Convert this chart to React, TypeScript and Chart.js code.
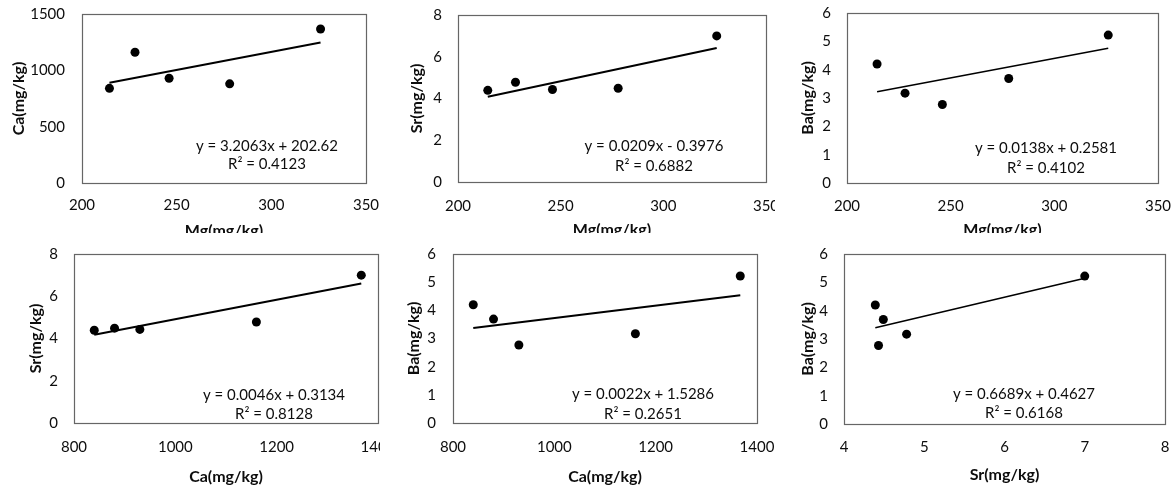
import React, { useEffect, useRef } from "react";
import { Chart, registerables } from "chart.js";

Chart.register(...registerables);

// ---- data (5 samples) ----
const MG = [214.5, 228, 246, 278, 326];
const CA = [840, 1160, 930, 880, 1367];
const SR = [4.39, 4.78, 4.43, 4.49, 7.0];
const BA = [4.2, 3.17, 2.77, 3.69, 5.22];

// ---- tick labels ----
const TICKS_MG = [200, 250, 300, 350];
const TICKS_CA_X = [800, 1000, 1200, 1400];
const TICKS_SR_X = [4, 5, 6, 7, 8];
const TICKS_CA_Y = [0, 500, 1000, 1500];
const TICKS_SR_Y = [0, 2, 4, 6, 8];
const TICKS_BA_Y = [0, 1, 2, 3, 4, 5, 6];

// ---- trendline coefficients and labels ----
const SLOPES = [3.2063, 0.0209, 0.0138, 0.0046, 0.0022, 0.6689];
const INTERCEPTS = [202.62, -0.3976, 0.2581, 0.3134, 1.5286, 0.4627];
const EQUATIONS = [
  "y = 3.2063x + 202.62",
  "y = 0.0209x - 0.3976",
  "y = 0.0138x + 0.2581",
  "y = 0.0046x + 0.3134",
  "y = 0.0022x + 1.5286",
  "y = 0.6689x + 0.4627",
];
const R2_LABELS = [
  "R\u00B2 = 0.4123",
  "R\u00B2 = 0.6882",
  "R\u00B2 = 0.4102",
  "R\u00B2 = 0.8128",
  "R\u00B2 = 0.2651",
  "R\u00B2 = 0.6168",
];
const X_TITLES = ["Mg(mg/kg)", "Mg(mg/kg)", "Mg(mg/kg)", "Ca(mg/kg)", "Ca(mg/kg)", "Sr(mg/kg)"];
const Y_TITLES = ["Ca(mg/kg)", "Sr(mg/kg)", "Ba(mg/kg)", "Sr(mg/kg)", "Ba(mg/kg)", "Ba(mg/kg)"];

const FONT = "Lato";
const TEXT_COLOR = "#0d0d0d";

type Layout = {
  left: number; top: number; clipW: number; clipH: number; cw: number; ch: number;
  pl: number; pt: number; pr: number; pb: number;
  yTitleX: number; xTitleY: number; xTickY: number; yGap: number;
  eq: [number, number]; r2: [number, number]; lineW: number;
};

type PanelDef = {
  xs: number[]; ys: number[];
  xMin: number; xMax: number; xTicks: number[];
  yMin: number; yMax: number; yTicks: number[];
  idx: number; layout: Layout;
};

const PANELS: PanelDef[] = [
  {
    xs: MG, ys: CA, xMin: 200, xMax: 350, xTicks: TICKS_MG, yMin: 0, yMax: 1500, yTicks: TICKS_CA_Y, idx: 0,
    layout: { left: 0, top: 0, clipW: 390, clipH: 233, cw: 390, ch: 246, pl: 82, pt: 14, pr: 366, pb: 183,
      yTitleX: 18.7, xTitleY: 231, xTickY: 205, yGap: 17, eq: [267, 146], r2: [267, 164], lineW: 2 },
  },
  {
    xs: MG, ys: SR, xMin: 200, xMax: 350, xTicks: TICKS_MG, yMin: 0, yMax: 8, yTicks: TICKS_SR_Y, idx: 1,
    layout: { left: 390, top: 0, clipW: 385, clipH: 233, cw: 396, ch: 246, pl: 68, pt: 15, pr: 376, pb: 182,
      yTitleX: 27, xTitleY: 230, xTickY: 206, yGap: 16, eq: [264, 146], r2: [264, 166], lineW: 2 },
  },
  {
    xs: MG, ys: BA, xMin: 200, xMax: 350, xTicks: TICKS_MG, yMin: 0, yMax: 6, yTicks: TICKS_BA_Y, idx: 2,
    layout: { left: 780, top: 0, clipW: 396, clipH: 233, cw: 396, ch: 246, pl: 67, pt: 13, pr: 378, pb: 183,
      yTitleX: 28, xTitleY: 230, xTickY: 206, yGap: 16, eq: [266, 148], r2: [266, 168], lineW: 1.5 },
  },
  {
    xs: CA, ys: SR, xMin: 800, xMax: 1400, xTicks: TICKS_CA_X, yMin: 0, yMax: 8, yTicks: TICKS_SR_Y, idx: 3,
    layout: { left: 0, top: 240, clipW: 380, clipH: 246, cw: 396, ch: 246, pl: 74, pt: 14, pr: 378, pb: 183,
      yTitleX: 36, xTitleY: 237, xTickY: 207, yGap: 16, eq: [274, 155], r2: [274, 174], lineW: 2 },
  },
  {
    xs: CA, ys: BA, xMin: 800, xMax: 1400, xTicks: TICKS_CA_X, yMin: 0, yMax: 6, yTicks: TICKS_BA_Y, idx: 4,
    layout: { left: 390, top: 240, clipW: 390, clipH: 246, cw: 390, ch: 246, pl: 63, pt: 14, pr: 367, pb: 183,
      yTitleX: 23.5, xTitleY: 237, xTickY: 207, yGap: 17, eq: [253, 154], r2: [253, 174], lineW: 2 },
  },
  {
    xs: SR, ys: BA, xMin: 4, xMax: 8, xTicks: TICKS_SR_X, yMin: 0, yMax: 6, yTicks: TICKS_BA_Y, idx: 5,
    layout: { left: 780, top: 240, clipW: 396, clipH: 246, cw: 396, ch: 246, pl: 64, pt: 14, pr: 385, pb: 184,
      yTitleX: 28.3, xTitleY: 235, xTickY: 207, yGap: 16, eq: [244, 154], r2: [244, 173], lineW: 1.5 },
  },
];

const TICK_SIZE = 15;
const TITLE_SIZE = 16;
const LH = 1.2;

function Panel({ def }: { def: PanelDef }) {
  const ref = useRef<HTMLCanvasElement | null>(null);
  useEffect(() => {
    const L = def.layout;
    const i = def.idx;
    const points = def.xs.map((x, k) => ({ x, y: def.ys[k] }));
    const xLo = Math.min(...def.xs);
    const xHi = Math.max(...def.xs);
    const trend = [xLo, xHi].map((x) => ({ x, y: SLOPES[i] * x + INTERCEPTS[i] }));

    const tickHalf = (TICK_SIZE * LH) / 2;
    const titleHalf = (TITLE_SIZE * LH) / 2;

    const framePlugin = {
      id: "frame" + i,
      beforeDatasetsDraw(chart: any) {
        const { ctx, chartArea } = chart;
        ctx.save();
        ctx.strokeStyle = "#666666";
        ctx.lineWidth = 1.2;
        ctx.strokeRect(
          Math.round(chartArea.left) + 0.5,
          Math.round(chartArea.top) + 0.5,
          Math.round(chartArea.right - chartArea.left),
          Math.round(chartArea.bottom - chartArea.top)
        );
        ctx.restore();
      },
      afterDraw(chart: any) {
        const { ctx } = chart;
        ctx.save();
        ctx.fillStyle = TEXT_COLOR;
        ctx.font = `${TICK_SIZE}px ${FONT}`;
        ctx.textAlign = "center";
        ctx.textBaseline = "middle";
        ctx.fillText(EQUATIONS[i], L.eq[0], L.eq[1]);
        ctx.fillText(R2_LABELS[i], L.r2[0], L.r2[1]);
        ctx.restore();
      },
    };

    const chart = new Chart(ref.current as HTMLCanvasElement, {
      type: "scatter",
      data: {
        datasets: [
          {
            type: "line",
            data: trend,
            borderColor: "#000000",
            borderWidth: L.lineW,
            pointRadius: 0,
            showLine: true,
            fill: false,
            order: 2,
          } as any,
          {
            type: "scatter",
            data: points,
            backgroundColor: "#000000",
            borderColor: "#000000",
            pointRadius: 4.5,
            pointBorderWidth: 0,
            order: 1,
          } as any,
        ],
      },
      options: {
        responsive: false,
        animation: false,
        devicePixelRatio: 1,
        layout: { padding: { left: 0, top: L.pt, right: L.cw - L.pr, bottom: 0 } },
        plugins: { legend: { display: false }, tooltip: { enabled: false }, title: { display: false } },
        scales: {
          x: {
            type: "linear",
            min: def.xMin,
            max: def.xMax,
            grid: { display: false, drawTicks: false },
            border: { display: false },
            afterBuildTicks: (s: any) => {
              s.ticks = def.xTicks.map((v) => ({ value: v }));
            },
            ticks: {
              autoSkip: false,
              maxRotation: 0,
              minRotation: 0,
              padding: L.xTickY - L.pb - tickHalf,
              color: TEXT_COLOR,
              font: { family: FONT, size: TICK_SIZE, lineHeight: LH },
              callback: (v: any) => String(v),
            },
            title: {
              display: true,
              text: X_TITLES[i],
              color: TEXT_COLOR,
              font: { family: FONT, size: TITLE_SIZE, weight: "bold", lineHeight: LH },
              padding: { top: 0, bottom: L.ch - L.xTitleY - titleHalf },
            },
            afterFit: (s: any) => {
              s.height = L.ch - L.pb;
              s.paddingLeft = 0;
              s.paddingRight = 0;
            },
          },
          y: {
            type: "linear",
            min: def.yMin,
            max: def.yMax,
            grid: { display: false, drawTicks: false },
            border: { display: false },
            afterBuildTicks: (s: any) => {
              s.ticks = def.yTicks.map((v) => ({ value: v }));
            },
            ticks: {
              autoSkip: false,
              padding: L.yGap,
              color: TEXT_COLOR,
              font: { family: FONT, size: TICK_SIZE, lineHeight: LH },
              callback: (v: any) => String(v),
            },
            title: {
              display: true,
              text: Y_TITLES[i],
              color: TEXT_COLOR,
              font: { family: FONT, size: TITLE_SIZE, weight: "bold", lineHeight: LH },
              padding: { top: L.yTitleX - titleHalf, bottom: 0 },
            },
            afterFit: (s: any) => {
              s.width = L.pl;
              s.paddingTop = 0;
              s.paddingBottom = 0;
            },
          },
        },
      } as any,
      plugins: [framePlugin],
    });
    return () => chart.destroy();
  }, [def]);

  const L = def.layout;
  return (
    <div
      style={{
        position: "absolute",
        left: L.left,
        top: L.top,
        width: L.clipW,
        height: L.clipH,
        overflow: "hidden",
      }}
    >
      <canvas
        ref={ref}
        width={L.cw}
        height={L.ch}
        style={{ display: "block", width: L.cw, height: L.ch }}
      />
    </div>
  );
}

export default function App() {
  return (
    <div
      style={{
        position: "absolute",
        left: 0,
        top: 0,
        width: 1176,
        height: 486,
        background: "#ffffff",
        overflow: "hidden",
      }}
    >
      {PANELS.map((p) => (
        <Panel key={p.idx} def={p} />
      ))}
    </div>
  );
}
